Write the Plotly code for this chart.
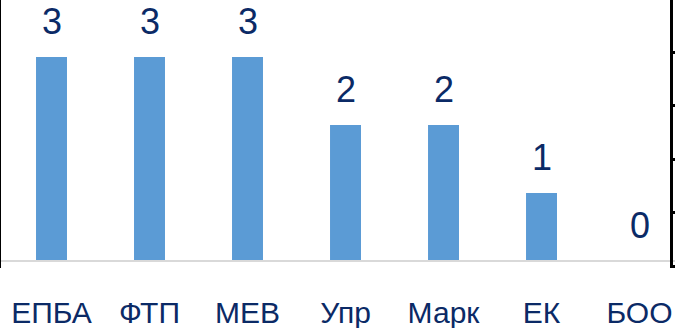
import plotly.graph_objects as go

categories = ["ЕПБА", "ФТП", "МЕВ", "Упр", "Марк", "ЕК", "БОО"]
values = [3, 3, 3, 2, 2, 1, 0]

BAR_COLOR = "#5b9bd5"
TEXT_COLOR = "#0b2a66"
FONT = "Liberation Sans, Arial, sans-serif"

fig = go.Figure()
fig.add_trace(go.Bar(
    x=categories, y=values, marker=dict(color=BAR_COLOR, line=dict(width=0)),
    showlegend=False, hoverinfo="skip",
))
# invisible trace for secondary (right) axis
fig.add_trace(go.Scatter(x=[categories[0]], y=[0], yaxis="y2", mode="markers",
                         marker=dict(opacity=0), showlegend=False, hoverinfo="skip"))

for c, v in zip(categories, values):
    fig.add_annotation(x=c, y=v, text=str(v), showarrow=False, yanchor="bottom",
                       yshift=13, font=dict(size=36, color=TEXT_COLOR, family=FONT))

W, H = 675, 328
ml, mr, mt, mb = 1, 0, 0, 60
plot_h = H - mt - mb  # 268
base_px = 261
px_per_unit = 68.0
fig.update_layout(
    width=W, height=H,
    margin=dict(l=ml, r=mr, t=mt, b=mb, autoexpand=False),
    paper_bgcolor="white", plot_bgcolor="white",
    bargap=0.684,
    xaxis=dict(
        type="category", range=[-0.5153, 6.362],
        showline=True, linecolor="#d9d9d9", linewidth=2,
        showgrid=False, zeroline=False, ticks="",
        tickfont=dict(size=30, color=TEXT_COLOR, family=FONT),
        anchor="free", position=(plot_h - base_px) / plot_h,
        ticklabelstandoff=25, automargin=False,
    ),
    yaxis=dict(
        domain=[0, 1],
        range=[-(plot_h - base_px) / px_per_unit, base_px / px_per_unit],
        showline=True, linecolor="black", linewidth=2.5,
        showgrid=False, zeroline=False, showticklabels=False, ticks="",
        automargin=False,
    ),
    yaxis2=dict(
        overlaying="y", side="right", anchor="free", position=0.9935,
        range=[-0.028, 4.98], dtick=1, tick0=0,
        showline=True, linecolor="black", linewidth=2.5,
        ticks="outside", ticklen=4, tickwidth=2.5, tickcolor="black",
        showgrid=False, zeroline=False, showticklabels=False,
        automargin=False,
    ),
)
fig.write_html("out.html", config={"displayModeBar": False},
               post_script="document.body.style.margin='0';document.body.style.overflow='hidden';")
